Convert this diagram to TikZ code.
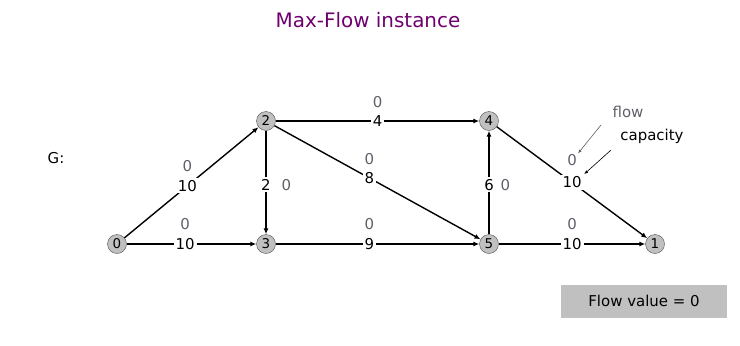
\documentclass[tikz,border=0pt]{standalone}
\usepackage{fontspec}
\setmainfont{DejaVu Sans}
\usepackage{tikz}
\usetikzlibrary{arrows.meta, positioning}

\definecolor{titlecol}{RGB}{110,0,110}
\definecolor{flowcol}{RGB}{95,95,105}
\definecolor{boxcol}{RGB}{192,192,192}

\tikzset{
    vert/.style={circle, draw=black!70, fill=boxcol, minimum size=19bp,
        inner sep=0pt, font=\fontsize{13.5}{13.5}\selectfont},
    edge/.style={line width=1.4bp, -{Latex[length=6bp,width=5bp]}},
    caplab/.style={fill=white, inner sep=2bp, font=\fontsize{15}{15}\selectfont},
    flowlab/.style={text=flowcol, inner sep=1bp, font=\fontsize{15}{15}\selectfont},
    hint/.style={flowcol, line width=0.6bp, -{Latex[length=4bp,width=3bp]}}
}

\begin{document}
\begin{tikzpicture}[x=1bp, y=-1bp]

    \useasboundingbox (0,0) rectangle (740,345);

    % TITLE
    \node[titlecol, font=\fontsize{20}{20}\selectfont] (title) at (368,20)
        {Max-Flow instance};
    \node[font=\fontsize{15}{15}\selectfont] (glab) at (56,158) {G:};

    % VERTICES
    \node[vert] (n0) at (117,244) {0};
    \node[vert] (n2) at (266,121) {2};
    \node[vert] (n3) at (266,244) {3};
    \node[vert] (n4) at (489,121) {4};
    \node[vert] (n5) at (489,244) {5};
    \node[vert] (n1) at (655,244) {1};

    % EDGES WITH CAPACITIES
    \draw[edge] (n0) -- node[caplab, pos=0.47] (c02) {10} (n2);
    \draw[edge] (n0) -- node[caplab, pos=0.45] (c03) {10} (n3);
    \draw[edge] (n2) -- node[caplab, pos=0.52] (c23) {2} (n3);
    \draw[edge] (n2) -- node[caplab] (c24) {4} (n4);
    \draw[edge] (n2) -- node[caplab, pos=0.46] (c25) {8} (n5);
    \draw[edge] (n3) -- node[caplab, pos=0.46] (c35) {9} (n5);
    \draw[edge] (n5) -- node[caplab, pos=0.48] (c54) {6} (n4);
    \draw[edge] (n4) -- node[caplab, pos=0.5] (c41) {10} (n1);
    \draw[edge] (n5) -- node[caplab, pos=0.5] (c51) {10} (n1);

    % FLOWS
    \node[flowlab, above=5bp of c02] (f02) {0};
    \node[flowlab, above=5bp of c03] (f03) {0};
    \node[flowlab, right=7bp of c23] (f23) {0};
    \node[flowlab, above=4bp of c24] (f24) {0};
    \node[flowlab, above=4bp of c25] (f25) {0};
    \node[flowlab, above=5bp of c35] (f35) {0};
    \node[flowlab, right=3bp of c54] (f54) {0};
    \node[flowlab, above=7bp of c41] (f41) {0};
    \node[flowlab, above=5bp of c51] (f51) {0};

    % LEGEND
    \node[flowlab] (lflow) at (628,112) {flow};
    \node[font=\fontsize{15}{15}\selectfont] (lcap) at (652,136) {capacity};
    \coordinate (pf) at (601,125);
    \coordinate (pc) at (611,150);
    \draw[hint] (pf) -- (f41.north east);
    \draw[hint, black] (pc) -- (c41.north east);

    % FLOW VALUE
    \node[fill=boxcol, minimum width=166bp, minimum height=33bp,
        font=\fontsize{15}{15}\selectfont] (fval) at (644,301) {Flow value = 0};

\end{tikzpicture}
\end{document}
